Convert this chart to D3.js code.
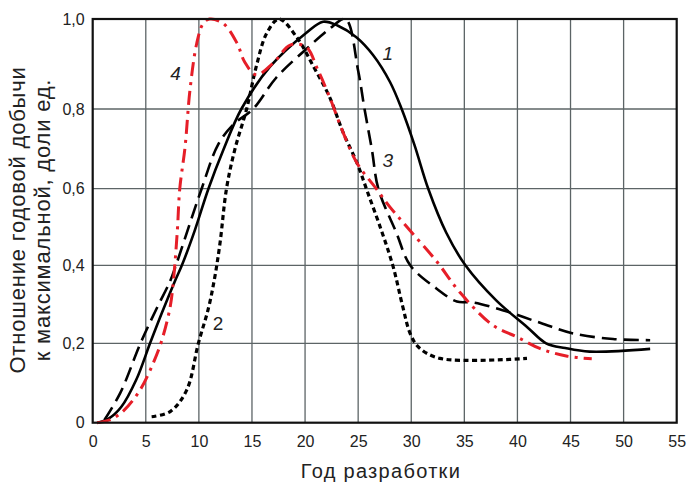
<!DOCTYPE html>
<html>
<head>
<meta charset="utf-8">
<script src="https://cdn.jsdelivr.net/npm/d3@7"></script>
<style>
  body { margin: 0; background: #fff; }
  text { font-family: "Liberation Sans", Arial, sans-serif; }
  .tick-label { font-family: "Liberation Sans Narrow", "Arial Narrow", "Liberation Sans", sans-serif; font-size: 16px; fill: #222; }
</style>
</head>
<body>
<svg id="chart" width="688" height="482"></svg>
<script>
// tick values
const xTicks = [0, 5, 10, 15, 20, 25, 30, 35, 40, 45, 50, 55];
const yTicks = [0, 0.2, 0.4, 0.6, 0.8, 1.0];

// curve 1 - solid
const c1Years = [0.5, 1.5, 2.7, 4.1, 5.4, 6.5, 7.75, 8.4, 9.6, 10.9, 12.3, 14.0, 16.7, 20.1, 21.7, 23.1, 24.8, 26.4, 28.0, 29.1, 30.3, 31.6, 33.3, 35.1, 38.0, 40.9, 42.7, 44.5, 46.8, 52.5];
const c1Values = [0, 0.01, 0.04, 0.108, 0.2, 0.277, 0.36, 0.4, 0.49, 0.6, 0.697, 0.8, 0.894, 0.969, 0.994, 0.985, 0.96, 0.92, 0.86, 0.8, 0.71, 0.6, 0.485, 0.4, 0.31, 0.242, 0.2, 0.188, 0.179, 0.186];

// curve 2 - short dashes
const c2Years = [5.55, 7.3, 8.85, 9.95, 10.9, 11.5, 12.0, 12.6, 13.4, 14.5, 15.4, 16.4, 17.55, 19.2, 20.8, 22.3, 23.6, 24.9, 25.9, 27.2, 28.3, 29.2, 29.9, 30.7, 32.7, 40.9];
const c2Values = [0.015, 0.028, 0.082, 0.2, 0.29, 0.37, 0.46, 0.6, 0.7, 0.8, 0.894, 0.969, 1.0, 0.96, 0.894, 0.827, 0.74, 0.664, 0.59, 0.49, 0.396, 0.294, 0.225, 0.19, 0.162, 0.162];

// curve 3 - long dashes
const c3Years = [1.1, 2.6, 4.5, 6.0, 7.3, 7.84, 10.26, 11.8, 13.2, 15.1, 17.3, 20.2, 22.3, 23.8, 25.0, 25.6, 26.3, 26.9, 28.6, 29.9, 32.4, 34.3, 35.8, 38.6, 42.2, 45.3, 49.0, 52.5];
const c3Values = [0.007, 0.075, 0.2, 0.288, 0.36, 0.4, 0.6, 0.71, 0.76, 0.8, 0.87, 0.935, 0.978, 1.0, 0.885, 0.8, 0.697, 0.6, 0.485, 0.4, 0.34, 0.307, 0.305, 0.285, 0.252, 0.225, 0.211, 0.208];

// curve 4 - red dash-dot
const c4Years = [0.4, 1.6, 2.9, 4.45, 5.7, 6.5, 7.3, 7.6, 7.97, 8.2, 8.7, 9.16, 9.8, 10.4, 11.0, 12.3, 13.6, 14.3, 15.4, 17.0, 18.6, 20.1, 21.2, 22.3, 23.6, 24.9, 26.7, 28.0, 29.6, 32.4, 34.6, 37.7, 39.9, 42.1, 44.6, 47.0];
const c4Values = [0, 0.007, 0.03, 0.082, 0.15, 0.207, 0.294, 0.36, 0.49, 0.6, 0.705, 0.842, 0.946, 0.99, 1.0, 0.99, 0.946, 0.905, 0.876, 0.902, 0.942, 0.938, 0.887, 0.827, 0.74, 0.664, 0.6, 0.552, 0.5, 0.41, 0.33, 0.246, 0.217, 0.187, 0.168, 0.161];

// curve number labels
const curveLabels = ["1", "2", "3", "4"];
const labelYears = [27.8, 11.8, 27.8, 7.8];
const labelValues = [0.92, 0.246, 0.667, 0.876];

const svg = d3.select("#chart");

const x = d3.scaleLinear().domain([0, 55]).range([92.7, 676.7]);
// scanned grid is not quite even, so the scale follows the printed gridlines
const y = d3.scaleLinear().domain(yTicks).range([422.7, 343.3, 265.3, 188.7, 109, 19]);

const fmt = (v) => (v === 0 ? "0" : d3.format(".1f")(v).replace(".", ","));

// grid
const grid = svg.append("g");
grid.selectAll(".vgrid")
  .data(xTicks.slice(1, -1))
  .enter()
  .append("line")
  .attr("x1", (d) => x(d))
  .attr("x2", (d) => x(d))
  .attr("y1", y(1))
  .attr("y2", y(0))
  .attr("stroke", "#5c6466")
  .attr("stroke-width", 1.3);
grid.selectAll(".hgrid")
  .data(yTicks.slice(1, -1))
  .enter()
  .append("line")
  .attr("x1", x(0))
  .attr("x2", x(55))
  .attr("y1", (d) => y(d))
  .attr("y2", (d) => y(d))
  .attr("stroke", "#5c6466")
  .attr("stroke-width", 1.3);

// axes, used only for the tick labels
const xAxis = svg.append("g")
  .attr("transform", `translate(0,${y(0)})`)
  .call(d3.axisBottom(x).tickValues(xTicks).tickSize(0).tickPadding(13).tickFormat((d) => d));
const yAxis = svg.append("g")
  .attr("transform", `translate(${x(0)},0)`)
  .call(d3.axisLeft(y).tickValues(yTicks).tickSize(0).tickPadding(8).tickFormat(fmt));
[xAxis, yAxis].forEach((a) => {
  a.select(".domain").remove();
  a.attr("font-size", null).attr("font-family", null);
  a.selectAll("text").attr("class", "tick-label");
});

// curves
const line = d3.line()
  .x((d) => x(d[0]))
  .y((d) => y(d[1]))
  .curve(d3.curveCatmullRom.alpha(0.5));

const series = [
  { years: c1Years, values: c1Values, color: "#000", width: 2.6, dash: null },
  { years: c2Years, values: c2Values, color: "#000", width: 3.2, dash: "5,3.5" },
  { years: c3Years, values: c3Values, color: "#000", width: 2.6, dash: "15,7" },
  { years: c4Years, values: c4Values, color: "#e61e28", width: 3, dash: "14,6,3,6" },
];

series.forEach((s) => {
  const pts = s.years.map((yr, i) => [yr, s.values[i]]);
  svg.append("path")
    .datum(pts)
    .attr("d", line)
    .attr("fill", "none")
    .attr("stroke", s.color)
    .attr("stroke-width", s.width)
    .attr("stroke-dasharray", s.dash);
});

// frame
svg.append("rect")
  .attr("x", x(0))
  .attr("y", y(1))
  .attr("width", x(55) - x(0))
  .attr("height", y(0) - y(1))
  .attr("fill", "none")
  .attr("stroke", "#111")
  .attr("stroke-width", 2.2);

// curve numbers
svg.selectAll(".curve-num")
  .data(curveLabels)
  .enter()
  .append("text")
  .attr("x", (d, i) => x(labelYears[i]))
  .attr("y", (d, i) => y(labelValues[i]))
  .attr("text-anchor", "middle")
  .attr("dominant-baseline", "middle")
  .attr("font-size", 19)
  .attr("font-style", (d) => (d === "2" ? "normal" : "italic"))
  .attr("fill", "#222")
  .text((d) => d);

// axis titles
svg.append("text")
  .attr("x", 381)
  .attr("y", 478)
  .attr("text-anchor", "middle")
  .attr("font-size", 20)
  .attr("letter-spacing", 1.3)
  .attr("fill", "#222")
  .text("Год разработки");

const yTitle = svg.append("text")
  .attr("transform", "translate(0,220) rotate(-90)")
  .attr("text-anchor", "middle")
  .attr("font-size", 22)
  .attr("letter-spacing", 0.8)
  .attr("fill", "#222");
yTitle.append("tspan").attr("x", 0).attr("y", 25).text("Отношение годовой добычи");
yTitle.append("tspan").attr("x", 0).attr("y", 50).text("к максимальной, доли ед.");
</script>
</body>
</html>
